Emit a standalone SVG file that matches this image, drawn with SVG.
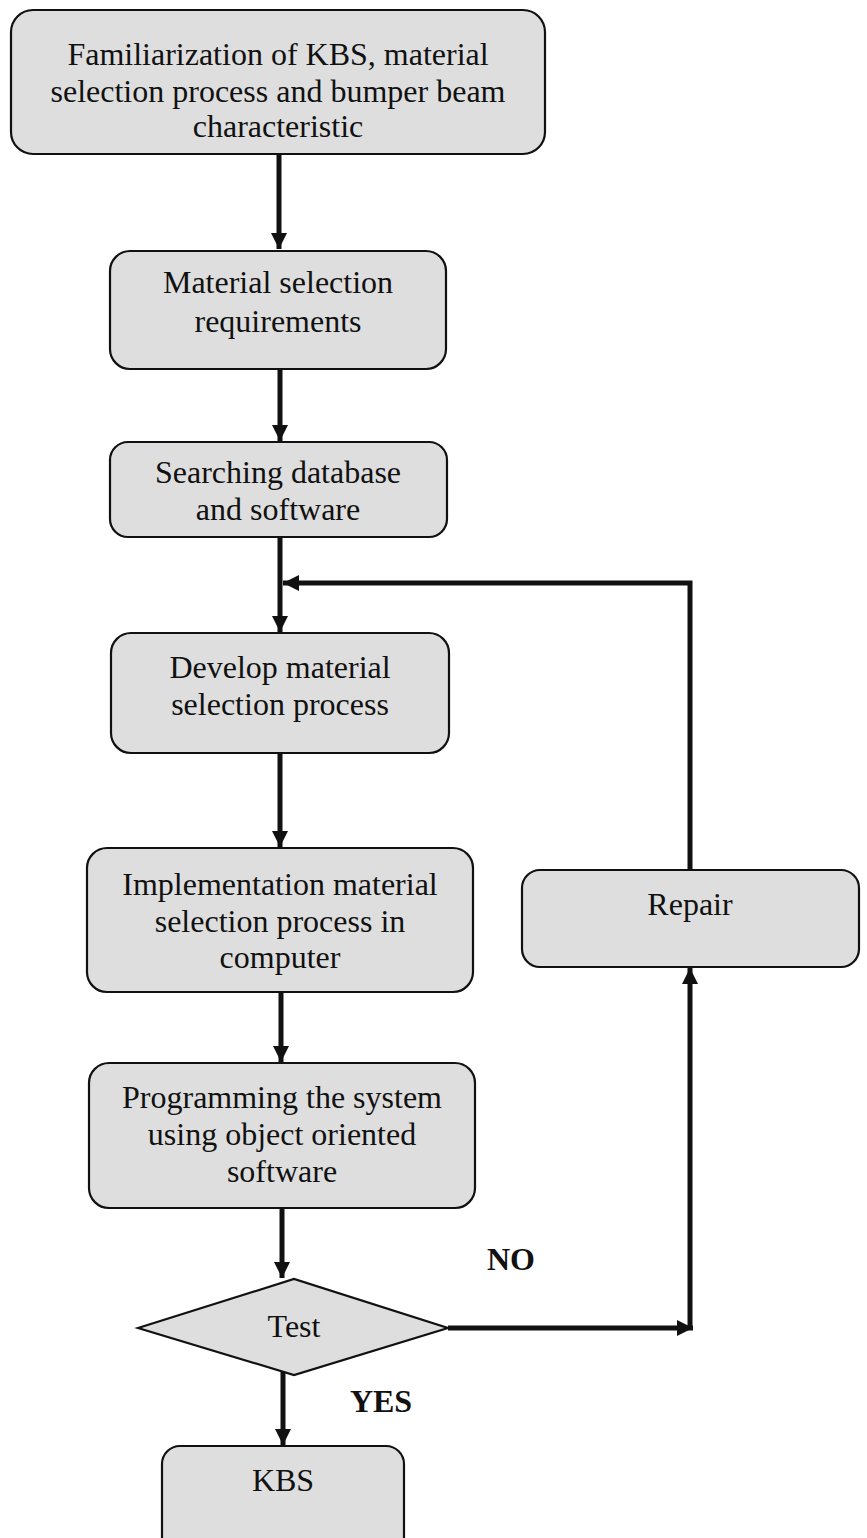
<svg xmlns="http://www.w3.org/2000/svg" width="867" height="1538" viewBox="0 0 867 1538">
<style>
.box{fill:#dedede;stroke:#111;stroke-width:2.2}
.t{font-family:"Liberation Serif","Times New Roman",serif;font-size:32px;fill:#111;text-anchor:middle}
.b{font-family:"Liberation Serif","Times New Roman",serif;font-size:32px;font-weight:bold;fill:#111;text-anchor:middle}
.c{fill:none;stroke:#111;stroke-width:5}
</style>
<defs>
<marker id="ah" viewBox="0 0 10 10" refX="10" refY="5" markerWidth="3.2" markerHeight="3.2" orient="auto" markerUnits="strokeWidth">
<path d="M0,0 L10,5 L0,10 z" fill="#111"/>
</marker>
</defs>
<rect width="867" height="1538" fill="#fff"/>
<g id="connectors">
<line class="c" x1="279" y1="154" x2="279" y2="249" marker-end="url(#ah)"/>
<line class="c" x1="280" y1="369" x2="280" y2="441" marker-end="url(#ah)"/>
<line class="c" x1="280" y1="537" x2="280" y2="632" marker-end="url(#ah)"/>
<polyline class="c" points="690,870 690,583 283,583" marker-end="url(#ah)"/>
<line class="c" x1="280" y1="753" x2="280" y2="847" marker-end="url(#ah)"/>
<line class="c" x1="281" y1="992" x2="281" y2="1062" marker-end="url(#ah)"/>
<line class="c" x1="282" y1="1208" x2="282" y2="1278" marker-end="url(#ah)"/>
<line class="c" x1="448" y1="1328" x2="693" y2="1328" marker-end="url(#ah)"/>
<line class="c" x1="690" y1="1328" x2="690" y2="968" marker-end="url(#ah)"/>
<line class="c" x1="283" y1="1370" x2="283" y2="1445" marker-end="url(#ah)"/>
</g>
<g id="n1">
<rect class="box" x="11" y="10" width="534" height="144" rx="22"/>
<text class="t" x="278" y="65">Familiarization of KBS, material</text>
<text class="t" x="278" y="102">selection process and bumper beam</text>
<text class="t" x="278" y="137">characteristic</text>
</g>
<g id="n2">
<rect class="box" x="110" y="251" width="336" height="118" rx="20"/>
<text class="t" x="278" y="293">Material selection</text>
<text class="t" x="278" y="332">requirements</text>
</g>
<g id="n3">
<rect class="box" x="110" y="442" width="337" height="95" rx="18"/>
<text class="t" x="278" y="483">Searching database</text>
<text class="t" x="278" y="520">and software</text>
</g>
<g id="n4">
<rect class="box" x="111" y="633" width="338" height="120" rx="20"/>
<text class="t" x="280" y="678">Develop material</text>
<text class="t" x="280" y="715">selection process</text>
</g>
<g id="n5">
<rect class="box" x="87" y="848" width="386" height="144" rx="20"/>
<text class="t" x="280" y="895">Implementation material</text>
<text class="t" x="280" y="932">selection process in</text>
<text class="t" x="280" y="968">computer</text>
</g>
<g id="n6">
<rect class="box" x="522" y="870" width="337" height="97" rx="18"/>
<text class="t" x="690" y="915">Repair</text>
</g>
<g id="n7">
<rect class="box" x="89" y="1063" width="386" height="145" rx="20"/>
<text class="t" x="282" y="1108">Programming the system</text>
<text class="t" x="282" y="1145">using object oriented</text>
<text class="t" x="282" y="1182">software</text>
</g>
<g id="n8">
<polygon class="box" points="138,1328 294,1279 448,1328 294,1375"/>
<text class="t" x="294" y="1337">Test</text>
</g>
<g id="n9">
<rect class="box" x="162" y="1446" width="242" height="120" rx="18"/>
<text class="t" x="283" y="1491">KBS</text>
</g>
<g id="labels">
<text class="b" x="511" y="1270">NO</text>
<text class="b" x="381" y="1412">YES</text>
</g>
</svg>
